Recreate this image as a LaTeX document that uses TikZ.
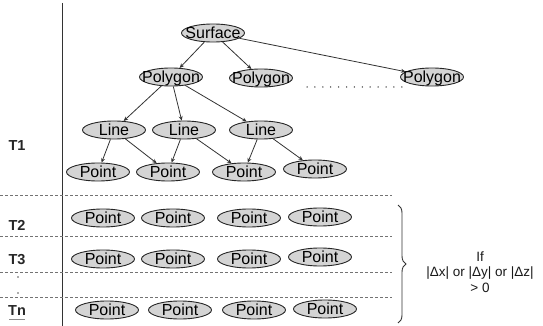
\documentclass[tikz,border=0pt]{standalone}
\usepackage{fontspec}
\setmainfont{Liberation Sans}
\usetikzlibrary{arrows.meta,decorations.pathreplacing,shapes.geometric}
\newcommand{\ovl}[1]{\makebox[0pt]{\raisebox{-0.36em}[0pt][0pt]{#1}}}
\tikzset{
  obj/.style={ellipse, draw=black!85, line width=0.9pt, fill=black!17,
    minimum width=63pt, minimum height=18pt, inner sep=0pt,
    font=\fontsize{16}{16}\selectfont},
  link/.style={draw=black!80, line width=0.8pt, -{Stealth[length=4.5pt,width=4pt]}},
  sep/.style={draw=black!55, line width=0.8pt, dash pattern=on 3pt off 2pt},
  tlabel/.style={font=\fontsize{14.5}{15}\selectfont\bfseries, text=black!85},
}
\begin{document}
\begin{tikzpicture}[x=1pt,y=-1pt]
\useasboundingbox (0,0) rectangle (543,326);

% time axis
\draw[black!80, line width=0.9pt] (62,3) -- (62,326);

% hierarchy of surface
\node[obj] (surf) at (213,33) {\ovl{Surface}};
\node[obj] (poly1) at (171,77) {\ovl{Polygon}};
\node[obj] (poly2) at (261,78) {\ovl{Polygon}};
\node[obj] (poly3) at (432,77) {\ovl{Polygon}};
\coordinate (dotsL) at (307,87);
\coordinate (dotsR) at (402,87);
\draw[black!80, line width=1.5pt, line cap=round, dash pattern=on 0pt off 7.9pt] (dotsL) -- (dotsR);

\node[obj] (line1) at (114,130) {\ovl{Line}};
\node[obj] (line2) at (184,130) {\ovl{Line}};
\node[obj] (line3) at (261,130) {\ovl{Line}};

\node[obj] (p11) at (98,172) {\ovl{Point}};
\node[obj] (p12) at (168,172) {\ovl{Point}};
\node[obj] (p13) at (244,172) {\ovl{Point}};
\node[obj] (p14) at (315,169) {\ovl{Point}};

\draw[link] (surf) -- (poly1);
\draw[link] (surf) -- (poly2);
\draw[link] (surf) -- (poly3);
\draw[link] (poly1) -- (line1);
\draw[link] (poly1) -- (line2);
\draw[link] (poly1) -- (line3);
\draw[link] (line1) -- (p11);
\draw[link] (line1) -- (p12);
\draw[link] (line2) -- (p12);
\draw[link] (line2) -- (p13);
\draw[link] (line3) -- (p13);
\draw[link] (line3) -- (p14);

% later time steps
\node[obj] (p21) at (103,218) {\ovl{Point}};
\node[obj] (p22) at (173,218) {\ovl{Point}};
\node[obj] (p23) at (249,218) {\ovl{Point}};
\node[obj] (p24) at (320,217) {\ovl{Point}};

\node[obj] (p31) at (103,259) {\ovl{Point}};
\node[obj] (p32) at (173,259) {\ovl{Point}};
\node[obj] (p33) at (249,259) {\ovl{Point}};
\node[obj] (p34) at (320,257) {\ovl{Point}};

\node[obj] (pn1) at (107,310) {\ovl{Point}};
\node[obj] (pn2) at (180,310) {\ovl{Point}};
\node[obj] (pn3) at (254,310) {\ovl{Point}};
\node[obj] (pn4) at (325,309) {\ovl{Point}};

% separators between time steps
\coordinate (s1a) at (0,195);   \coordinate (s1b) at (392,195);
\coordinate (s2a) at (0,236);   \coordinate (s2b) at (392,236);
\coordinate (s3a) at (0,272);   \coordinate (s3b) at (392,272);
\coordinate (s4a) at (0,297);   \coordinate (s4b) at (392,297);
\draw[sep] (s1a) -- (s1b);
\draw[sep] (s2a) -- (s2b);
\draw[sep] (s3a) -- (s3b);
\draw[sep] (s4a) -- (s4b);

% time step labels
\node[tlabel] (t1) at (17,146) {T1};
\node[tlabel] (t2) at (17,225) {T2};
\node[tlabel] (t3) at (17,260) {T3};
\node[tlabel] (tn) at (17,311) {Tn};
\coordinate (ulL) at (9,319); \coordinate (ulR) at (25,319);
\draw[black!45, line width=0.8pt] (ulL) -- (ulR);
\node[circle, fill=black!65, inner sep=0pt, minimum size=1.6pt] (d1) at (18,277) {};
\node[circle, fill=black!65, inner sep=0pt, minimum size=1.6pt] (d2) at (18,293) {};

% condition on the repeated steps
\coordinate (brT) at (398,205);
\coordinate (brB) at (398,323);
\draw[black!80, line width=0.9pt, decorate, decoration={brace, amplitude=8pt}] (brT) -- (brB);
\node[font=\fontsize{13.5}{15.5}\selectfont, align=center, text=black!90] (cond) at (480,272)
  {If\\|Δx| or |Δy| or |Δz|\\> 0};
\end{tikzpicture}
\end{document}
